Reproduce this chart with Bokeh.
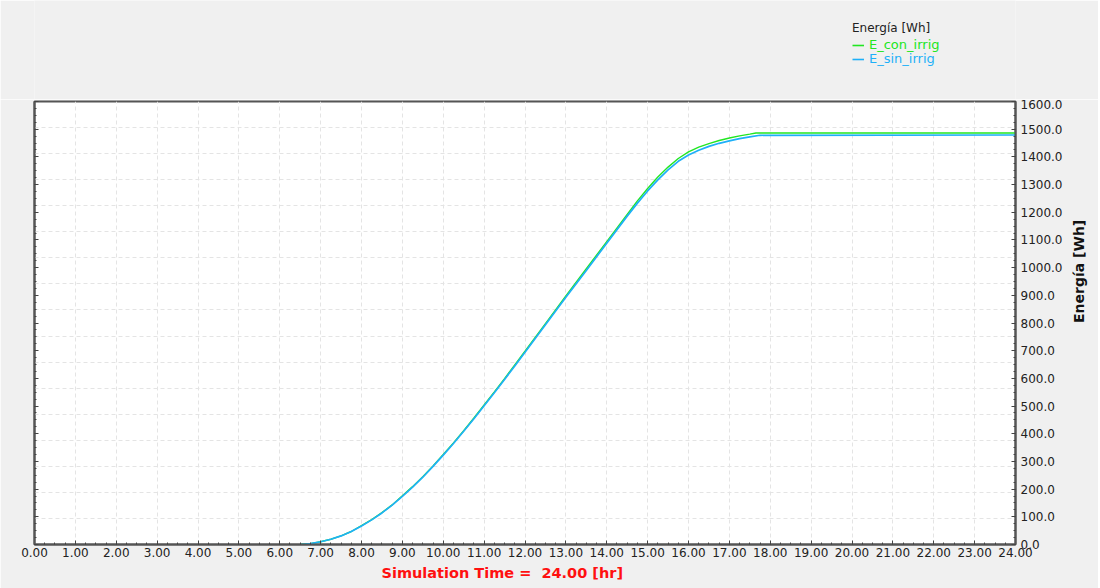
import math
from bokeh.plotting import figure
from bokeh.layouts import column
from bokeh.models import (Range1d, LinearAxis, SingleIntervalTicker, FixedTicker,
                          PrintfTickFormatter, CustomJSTickFormatter, Legend, LegendItem, Title)
from bokeh.embed import file_html
from bokeh.resources import INLINE

# ---- data ----
t_sin = [6.5, 6.75, 7.0, 7.25, 7.5, 7.75, 8.0, 8.25, 8.5, 8.75, 9.0, 9.25, 9.5, 9.75,
         10.0, 10.25, 10.5, 10.75, 11.0, 11.25, 11.5, 11.75, 12.0, 12.5, 13.0, 13.5, 14.0,
         14.5, 14.75, 15.0, 15.25, 15.5, 15.75, 16.0, 16.25, 16.5, 16.75, 17.0, 17.25,
         17.5, 17.75, 24.0]
e_sin = [0, 3, 10, 19, 31, 47, 67, 89, 114, 142, 174, 207, 243, 282,
         323, 365, 409, 454, 501, 548, 596, 645, 694, 794, 893, 990, 1088,
         1186, 1233, 1277, 1317, 1353, 1384, 1407, 1424, 1438, 1449, 1458, 1466,
         1472, 1478, 1479]

t_con = [6.5, 6.75, 7.0, 7.25, 7.5, 7.75, 8.0, 8.25, 8.5, 8.75, 9.0, 9.25, 9.5, 9.75,
         10.0, 10.25, 10.5, 10.75, 11.0, 11.25, 11.5, 11.75, 12.0, 12.5, 13.0, 13.5, 14.0,
         14.5, 14.75, 15.0, 15.25, 15.5, 15.75, 16.0, 16.25, 16.5, 16.75, 17.0, 17.25,
         17.5, 17.65, 24.0]
e_con = [0, 3, 10, 19, 31, 47, 68, 90, 115, 143, 176, 209, 245, 284,
         325, 367, 411, 457, 504, 551, 599, 649, 698, 798, 898, 996, 1094,
         1192, 1241, 1286, 1327, 1363, 1394, 1418, 1435, 1448, 1459, 1468, 1476,
         1482, 1486, 1486]

x_tick_fmt = "%.2f"
y_tick_fmt = "%.1f"
legend_title = "Energía [Wh]"
name_con = "E_con_irrig"
name_sin = "E_sin_irrig"
y_title = "Energía [Wh]"
x_title = "Simulation Time =\u00a0 24.00 [hr]"

FONT = "DejaVu Sans"
BG = "#f0f0f0"
GREEN = "#22e622"
BLUE = "#1eb0f8"
W = 1098

# ---- main chart ----
p = figure(frame_width=981, frame_height=443,
           x_range=Range1d(0, 24), y_range=Range1d(0, 1600),
           output_backend="svg", toolbar_location=None,
           min_border_left=34, min_border_right=83, min_border_top=2, min_border_bottom=44,
           background_fill_color="white", border_fill_color=BG,
           outline_line_color="#555555", outline_line_width=2)

xt = SingleIntervalTicker(interval=1, num_minor_ticks=4)
yt = SingleIntervalTicker(interval=100, num_minor_ticks=4)

xa = p.xaxis[0]
xa.ticker = xt
xa.formatter = PrintfTickFormatter(format=x_tick_fmt)
xa.axis_line_color = "#555555"
xa.axis_line_width = 2
xa.major_tick_in = 4
xa.major_tick_out = 0
xa.minor_tick_in = 2
xa.minor_tick_out = 0
xa.major_tick_line_color = "#444444"
xa.minor_tick_line_color = "#444444"
xa.major_label_standoff = 3
xa.major_label_text_font = FONT
xa.major_label_text_font_size = "12px"
xa.major_label_text_color = "#222222"

ya = p.yaxis[0]
ya.ticker = yt
ya.formatter = CustomJSTickFormatter(code="return ''")
ya.axis_line_color = "#555555"
ya.axis_line_width = 2
ya.major_tick_in = 4
ya.major_tick_out = 0
ya.minor_tick_in = 2
ya.minor_tick_out = 0
ya.major_tick_line_color = "#444444"
ya.minor_tick_line_color = "#444444"
ya.major_label_standoff = 0

ra = LinearAxis(ticker=SingleIntervalTicker(interval=100, num_minor_ticks=4),
                formatter=PrintfTickFormatter(format=y_tick_fmt),
                axis_line_color="#555555", axis_line_width=2,
                major_tick_in=4, major_tick_out=0, minor_tick_in=2, minor_tick_out=0,
                major_tick_line_color="#444444", minor_tick_line_color="#444444",
                major_label_standoff=5, major_label_text_font=FONT,
                major_label_text_font_size="12px", major_label_text_color="#222222",
                axis_label=y_title, axis_label_text_font=FONT,
                axis_label_text_font_size="14px", axis_label_text_font_style="bold",
                axis_label_text_color="#111111", axis_label_standoff=14)
try:
    ra.axis_label_orientation = math.pi / 2
except Exception:
    pass
p.add_layout(ra, "right")

p.xgrid.ticker = xt
p.xgrid.grid_line_color = "#e4e4e4"
p.xgrid.grid_line_dash = "4 3"
p.ygrid.ticker = FixedTicker(ticks=[1600 * k / 17 for k in range(1, 17)])
p.ygrid.grid_line_color = "#e4e4e4"
p.ygrid.grid_line_dash = "4 3"

p.add_layout(Title(text=x_title, align="left", offset=347, standoff=6,
                   text_font=FONT, text_font_size="14.5px", text_font_style="bold",
                   text_color="#ff1010"), "below")

r_con = p.line(t_con, e_con, line_color=GREEN, line_width=1.4)
r_sin = p.line(t_sin, e_sin, line_color=BLUE, line_width=1.7)

# ---- legend strip above the chart ----
top = figure(width=W, height=99, x_range=Range1d(0, W), y_range=Range1d(0, 99),
             x_axis_type=None, y_axis_type=None, output_backend="svg",
             toolbar_location=None, min_border=0,
             background_fill_color=BG, border_fill_color=BG, outline_line_color=None)
top.grid.visible = False
# off-screen stand-ins: only their styles feed the legend keys
k_con = top.line([-20, -10], [-20, -20], line_color=GREEN, line_width=1.6)
k_sin = top.line([-20, -10], [-20, -20], line_color=BLUE, line_width=1.6)

common = dict(label_text_font=FONT, label_text_font_size="13px",
              glyph_width=12, glyph_height=14, label_height=14, label_standoff=5,
              spacing=0, padding=0, margin=0,
              background_fill_alpha=0, border_line_alpha=0)
leg1 = Legend(items=[LegendItem(label=name_con, renderers=[k_con])],
              title=legend_title, title_text_font=FONT, title_text_font_size="12px",
              title_text_font_style="normal",
              title_text_color="#222222", title_standoff=2,
              label_text_color=GREEN, location=(818, 47), **common)
leg2 = Legend(items=[LegendItem(label=name_sin, renderers=[k_sin])],
              label_text_color=BLUE, location=(818, 33), **common)
top.add_layout(leg1, "center")
top.add_layout(leg2, "center")

layout = column(top, p, spacing=0)
open("out.html", "w").write(file_html(layout, INLINE))
